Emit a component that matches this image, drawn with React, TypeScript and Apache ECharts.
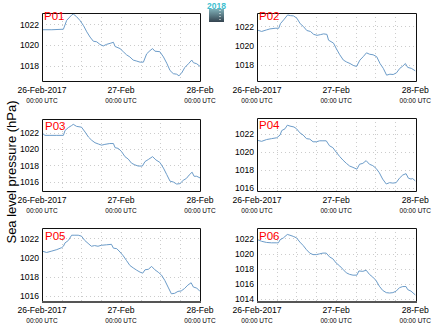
import React, { useEffect, useRef } from "react";
import * as echarts from "echarts";

const panelNames = ["P01", "P02", "P03", "P04", "P05", "P06"];
const xTickHours = [0, 24, 48];
const xTickDates = ["26-Feb-2017", "27-Feb", "28-Feb"];
const xTickTime = "00:00 UTC";
const yTitle = "Sea level pressure (hPa)";
const logoText = "2018";
const yMins = [1016.6, 1016.4, 1014.9, 1015.67, 1015.5, 1013.8];
const yMaxs = [1023.1, 1023.4, 1023.7, 1023.8, 1023.1, 1023.4];

const p01Hours = [0, 3, 6.5, 7.5, 9, 9.5, 10.5, 11.5, 12.6, 13.6, 14.6, 15.6, 16.6, 17.6, 18.6, 19.6, 20.7, 21.7, 22.2, 23.7, 24.7, 25.7, 26.7, 27.7, 28.8, 29.8, 30.8, 31.8, 32.8, 33.6, 34.3, 35.8, 36.9, 37.9, 38.9, 39.9, 40.9, 41.6, 42.4, 43.4, 44.5, 45.5, 46.0, 47.0, 48];
const p01Values = [1021.5, 1021.5, 1021.55, 1022.4, 1022.9, 1023.0, 1022.75, 1022.4, 1021.9, 1021.3, 1020.8, 1020.4, 1020.35, 1020.1, 1019.95, 1020.1, 1020.2, 1020.3, 1019.9, 1019.7, 1019.4, 1019.1, 1018.9, 1018.6, 1018.5, 1018.4, 1018.4, 1019.2, 1019.5, 1019.7, 1019.45, 1019.4, 1018.9, 1018.3, 1017.6, 1017.3, 1017.25, 1017.1, 1017.35, 1017.9, 1018.25, 1018.6, 1018.35, 1018.25, 1018.0];

const p02Hours = [0, 1.4, 2.9, 3.9, 5.5, 6.6, 7.1, 8.1, 9.3, 10.1, 11.1, 12.1, 13.1, 14.1, 15.1, 16.2, 17.2, 18.2, 19.2, 20.2, 21.2, 21.7, 23.2, 24.1, 25.1, 26.2, 27.2, 28.2, 29.2, 30.2, 31.2, 32.2, 33.2, 34.2, 35.2, 36.3, 37.3, 38.3, 39.3, 40.3, 41.3, 42.3, 43.3, 44.2, 45.0, 45.7, 46.8, 48];
const p02Values = [1021.66, 1021.5, 1021.66, 1021.76, 1021.83, 1021.83, 1022.3, 1022.7, 1023.2, 1023.13, 1023.1, 1022.86, 1022.3, 1022.0, 1021.6, 1021.5, 1021.2, 1021.1, 1021.17, 1021.25, 1021.2, 1020.6, 1020.3, 1019.7, 1019.1, 1018.55, 1018.35, 1018.2, 1018.0, 1017.9, 1018.55, 1018.9, 1019.3, 1019.15, 1019.1, 1018.9, 1018.2, 1017.7, 1017.0, 1017.1, 1017.07, 1017.24, 1017.7, 1017.93, 1018.2, 1017.8, 1017.7, 1017.45];

const p03Hours = [0, 0.9, 2.4, 4.5, 6.5, 7.0, 8.0, 9.0, 9.5, 10.5, 12.0, 13.1, 14.1, 15.1, 16.1, 17.1, 18.1, 19.1, 20.6, 21.7, 22.2, 23.2, 24.2, 25.2, 26.2, 27.2, 28.2, 29.2, 30.5, 31.3, 32.3, 33.6, 34.6, 35.8, 36.9, 37.9, 38.9, 39.9, 40.9, 41.9, 42.9, 43.9, 44.7, 45.6, 46.2, 47.0, 48];
const p03Values = [1022.0, 1021.7, 1021.7, 1021.7, 1021.7, 1022.3, 1022.65, 1022.9, 1023.05, 1022.8, 1022.7, 1022.1, 1021.5, 1021.1, 1020.8, 1020.65, 1020.5, 1020.6, 1020.7, 1020.7, 1020.2, 1020.1, 1019.7, 1019.1, 1018.8, 1018.3, 1018.1, 1017.95, 1017.95, 1018.5, 1018.75, 1019.1, 1018.7, 1018.4, 1017.7, 1016.9, 1016.1, 1016.0, 1015.75, 1015.8, 1016.2, 1016.45, 1016.85, 1017.2, 1016.7, 1016.7, 1016.5];

const p04Hours = [0, 1.4, 2.9, 4.4, 6.0, 7.0, 7.5, 8.5, 9.2, 10.0, 11.2, 12.0, 13.0, 14.0, 15.0, 16.0, 17.0, 18.0, 19.0, 20.0, 21.0, 22.0, 23.0, 24.0, 25.1, 26.1, 27.1, 28.1, 29.1, 30.3, 31.1, 32.1, 33.1, 34.1, 35.1, 36.1, 37.1, 38.1, 39.2, 40.2, 41.2, 42.2, 43.2, 44.2, 45.2, 45.9, 46.7, 47.2, 48];
const p04Values = [1021.33, 1021.2, 1021.4, 1021.5, 1021.6, 1021.9, 1022.4, 1022.6, 1023.0, 1022.9, 1022.8, 1022.6, 1022.15, 1021.9, 1021.5, 1021.45, 1021.15, 1021.15, 1021.26, 1021.26, 1021.26, 1020.7, 1020.5, 1020.0, 1019.5, 1019.1, 1018.75, 1018.45, 1018.3, 1018.1, 1018.65, 1018.75, 1019.05, 1018.65, 1018.5, 1018.2, 1017.7, 1017.0, 1016.45, 1016.6, 1016.55, 1016.6, 1017.1, 1017.45, 1017.6, 1017.1, 1017.0, 1017.05, 1016.8];

const p05Hours = [0, 1.4, 3.0, 4.5, 6.0, 6.5, 7.0, 8.0, 9.0, 10.0, 11.0, 12.0, 13.0, 14.0, 15.0, 16.0, 17.0, 18.0, 19.6, 21.1, 21.7, 22.7, 23.7, 24.7, 25.7, 26.7, 27.7, 28.8, 29.8, 30.6, 31.3, 32.3, 33.3, 34.3, 35.3, 36.3, 37.3, 38.3, 39.3, 40.3, 41.3, 42.3, 43.3, 44.3, 45.3, 46.0, 47.0, 48];
const p05Values = [1020.7, 1020.55, 1020.7, 1020.85, 1021.06, 1021.2, 1021.55, 1021.8, 1022.35, 1022.35, 1022.35, 1022.25, 1021.8, 1021.5, 1021.2, 1021.27, 1021.2, 1021.3, 1021.35, 1021.4, 1021.0, 1020.95, 1020.6, 1020.2, 1019.7, 1019.2, 1018.95, 1018.7, 1018.5, 1018.4, 1018.75, 1018.8, 1019.1, 1018.75, 1018.5, 1018.2, 1017.65, 1016.95, 1016.25, 1016.3, 1016.5, 1016.55, 1016.8, 1017.15, 1017.4, 1016.95, 1016.85, 1016.5];

const p06Hours = [0, 1.4, 2.9, 4.4, 6.0, 6.5, 7.0, 8.0, 9.2, 10.0, 11.0, 12.0, 13.0, 14.0, 15.0, 16.0, 17.0, 18.0, 19.0, 20.0, 21.0, 22.0, 23.0, 24.0, 25.1, 26.1, 27.1, 28.1, 29.1, 30.3, 30.9, 32.1, 33.1, 34.1, 35.1, 36.1, 37.1, 38.1, 39.2, 40.2, 41.2, 42.2, 43.2, 44.2, 45.2, 45.7, 46.7, 48];
const p06Values = [1021.9, 1021.65, 1021.5, 1021.45, 1021.45, 1021.45, 1021.85, 1022.1, 1022.55, 1022.45, 1022.3, 1022.1, 1021.55, 1021.1, 1020.55, 1020.1, 1019.9, 1019.9, 1020.0, 1020.1, 1020.1, 1019.6, 1019.35, 1018.8, 1018.4, 1017.95, 1017.5, 1017.3, 1017.2, 1017.2, 1017.75, 1017.7, 1017.85, 1017.3, 1016.95, 1016.5, 1015.75, 1015.2, 1014.9, 1014.85, 1014.9, 1015.1, 1015.55, 1015.7, 1015.7, 1015.3, 1015.1, 1014.6];

const panelHours = [p01Hours, p02Hours, p03Hours, p04Hours, p05Hours, p06Hours];
const panelValues = [p01Values, p02Values, p03Values, p04Values, p05Values, p06Values];

const FONT = "Liberation Sans, Arial, sans-serif";

export default function App() {
  const ref = useRef<HTMLDivElement>(null);
  useEffect(() => {
    if (!ref.current) return;
    const chart = echarts.init(ref.current, undefined, { renderer: "svg" });
    const grids = [
      { left: 42, top: 13, width: 158, height: 68 },
      { left: 257, top: 13, width: 159, height: 68 },
      { left: 42, top: 119, width: 158, height: 72 },
      { left: 257, top: 118, width: 159, height: 73 },
      { left: 42, top: 228, width: 158, height: 73 },
      { left: 257, top: 228, width: 159, height: 73 },
    ];
    const labelPos = [
      [44, 16],
      [259, 16],
      [45, 125.5],
      [259, 125],
      [45, 236],
      [259, 236],
    ];
    const xFormatter = (v: number) => {
      const i = xTickHours.indexOf(v);
      if (i < 0) return "";
      return "{a|" + xTickDates[i] + "}\n{b|" + xTickTime + "}";
    };
    const splitStyle = { color: "#cccccc", type: [1, 3], width: 1 };
    const option: any = {
      animation: false,
      backgroundColor: "#fff",
      textStyle: { fontFamily: FONT },
      grid: grids.map((g) => ({
        ...g,
        show: false,
        containLabel: false,
      })),
      xAxis: grids.map((g, i) => ({
        type: "value",
        gridIndex: i,
        min: 0,
        max: 48,
        interval: 6,
        axisLine: { show: false },
        axisTick: { show: false },
        splitLine: { show: true, showMinLine: false, showMaxLine: false, lineStyle: splitStyle },
        axisLabel: {
          show: true,
          margin: 3,
          formatter: xFormatter,
          showMinLabel: true,
          showMaxLabel: true,
          hideOverlap: false,
          rich: {
            a: { fontSize: 8.6, lineHeight: 11, color: "#000", fontFamily: FONT },
            b: { fontSize: 6.5, lineHeight: 10, color: "#000", fontFamily: FONT },
          },
        },
      })),
      yAxis: grids.map((g, i) => ({
        type: "value",
        gridIndex: i,
        min: yMins[i],
        max: yMaxs[i],
        minInterval: 2,
        maxInterval: 2,
        splitNumber: 4,
        axisLine: { show: false },
        axisTick: { show: false },
        splitLine: { show: true, showMinLine: false, showMaxLine: false, lineStyle: splitStyle },
        axisLabel: {
          margin: 3,
          fontSize: 8.6,
          color: "#000",
          fontFamily: FONT,
          showMinLabel: false,
          showMaxLabel: false,
          formatter: (v: number) => (Math.abs(v % 2) < 1e-6 ? String(v) : ""),
        },
      })),
      series: panelValues.map((vals, i) => ({
        type: "line",
        xAxisIndex: i,
        yAxisIndex: i,
        data: vals.map((v, k) => [panelHours[i][k], v]),
        showSymbol: false,
        symbol: "none",
        lineStyle: { color: "#6c9cc9", width: 1 },
        silent: true,
      })),
      graphic: [
        ...grids.map((g) => ({
          type: "rect",
          z: 50,
          silent: true,
          shape: { x: g.left + 0.5, y: g.top + 0.5, width: g.width, height: g.height },
          style: { fill: "none", stroke: "#111", lineWidth: 1 },
        })),
        ...grids.slice(4).map((g) => ({
          type: "line",
          z: 51,
          silent: true,
          shape: { x1: g.left, y1: g.top + g.height + 1, x2: g.left + g.width + 1, y2: g.top + g.height + 1 },
          style: { stroke: "#555", lineWidth: 2 },
        })),
        ...panelNames.map((name, i) => ({
          type: "text",
          x: labelPos[i][0],
          y: labelPos[i][1],
          z: 100,
          style: {
            text: name,
            fill: "#ff0000",
            fontSize: 11.5,
            fontFamily: FONT,
            verticalAlign: "middle",
            align: "left",
          },
        })),
        {
          type: "text",
          x: 11,
          y: 172,
          rotation: Math.PI / 2,
          style: {
            text: yTitle,
            fill: "#000",
            fontSize: 13,
            fontFamily: FONT,
            align: "center",
            verticalAlign: "middle",
          },
        },
        {
          type: "rect",
          shape: { x: 209, y: 9, width: 15, height: 13 },
          style: {
            fill: new echarts.graphic.LinearGradient(0, 0, 0, 1, [
              { offset: 0, color: "#7fb0b8" },
              { offset: 1, color: "#34434f" },
            ]),
          },
        },
        {
          type: "line",
          shape: { x1: 220, y1: 10, x2: 220, y2: 22 },
          style: { stroke: "#fff", lineWidth: 1, lineDash: [1, 2] },
        },
        {
          type: "text",
          x: 216.5,
          y: 6,
          style: {
            text: logoText,
            fill: "#40c0d0",
            fontSize: 8.5,
            fontWeight: "bold",
            fontFamily: FONT,
            align: "center",
            verticalAlign: "middle",
          },
        },
      ],
    };
    chart.setOption(option);
    return () => chart.dispose();
  }, []);
  return (
    <div
      ref={ref}
      style={{ position: "absolute", left: 0, top: 0, width: 434, height: 327 }}
    />
  );
}
